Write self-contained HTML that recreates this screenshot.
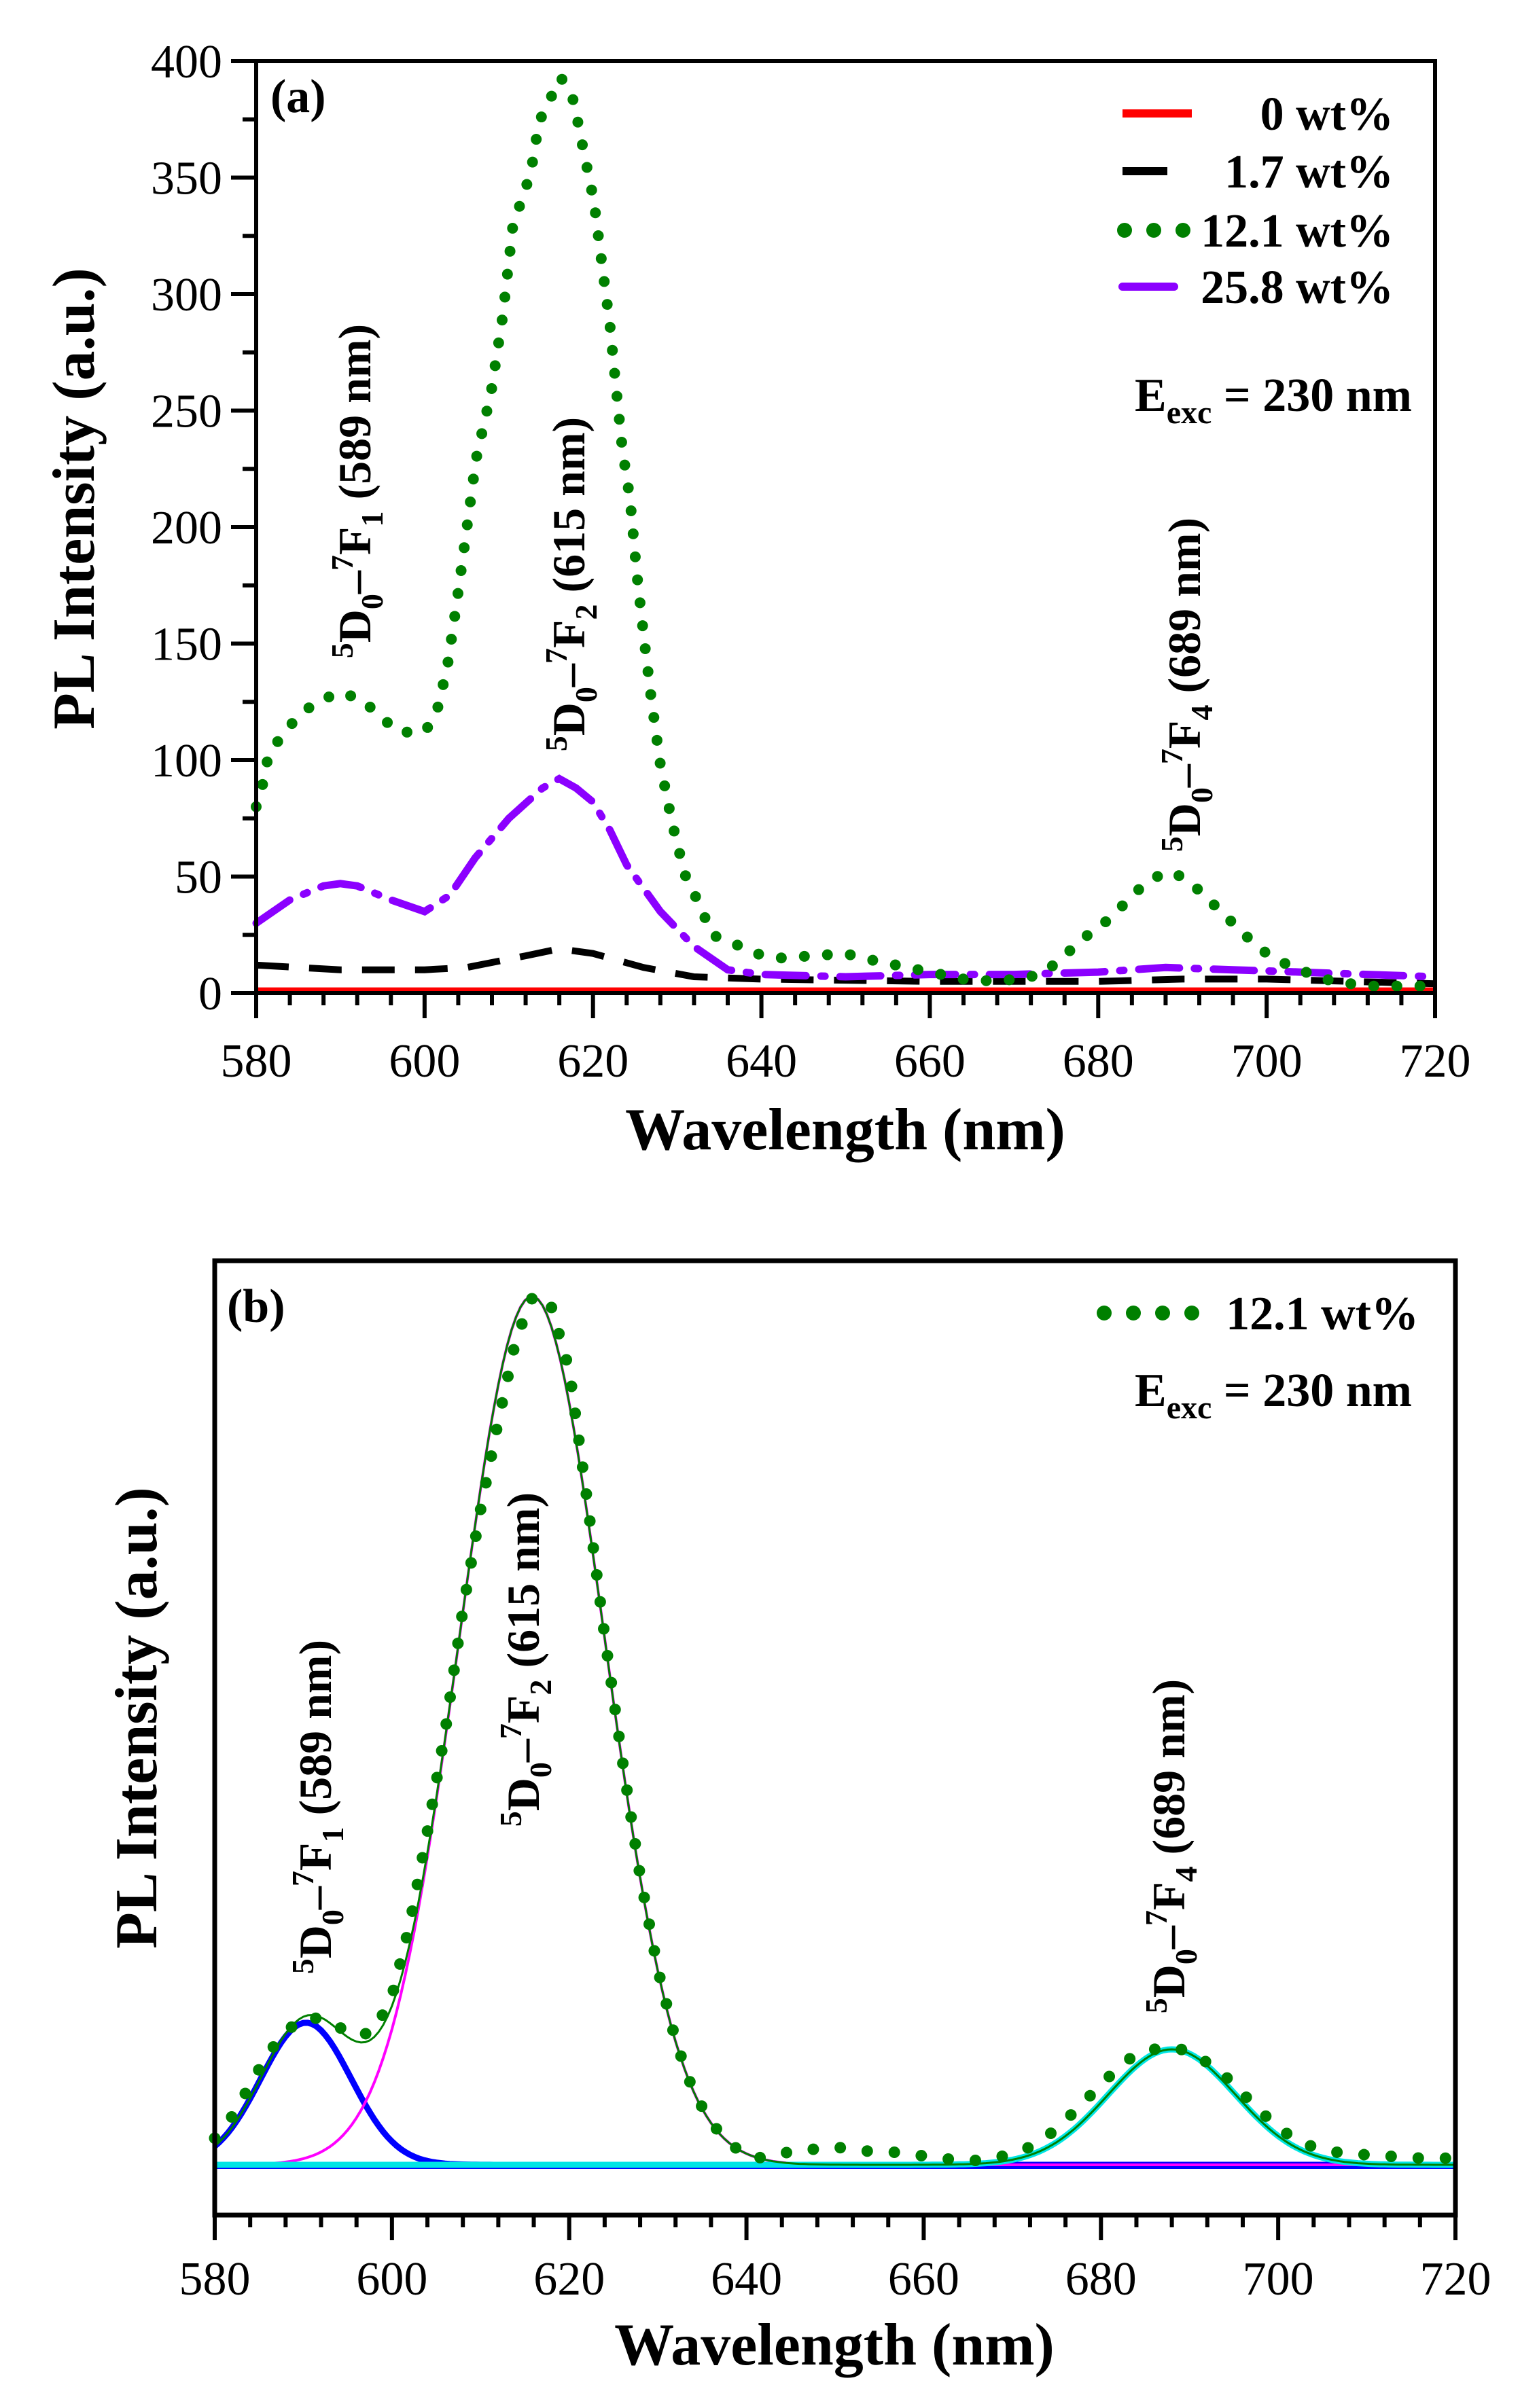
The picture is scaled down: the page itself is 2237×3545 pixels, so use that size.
<!DOCTYPE html>
<html><head><meta charset="utf-8"><style>
html,body{margin:0;padding:0;background:#fff;}
svg{display:block;font-family:"Liberation Serif",serif;}
</style></head><body>
<svg id="fig" width="2237" height="3545" viewBox="0 0 2237 3545" xmlns="http://www.w3.org/2000/svg">
<rect width="2237" height="3545" fill="#fff"/>
<g id="pa"></g>
<g id="pb"></g>
</svg>
<script>
// ---------- Panel (a) data ----------
const aX121 = [580,580.8,581.4,582.9,584.8,587.1,590,592.6,594.6,597,600,601.4,602.7,603.8,605,606.1,607.9,609.3,610.5,611.9,612.7,613.6,614.8,616.2,617.7,618.8,620.1,621.2,622,622.6,623.5,624.4,625.2,626,626.9,628,629.4,630.9,632.9,634.1,636.3,639.3,642,646,650,652,656,660,664,668,672,674,676,678,680,682,684,686,688,690,692,694,696,698,700,702,704,706,708,712,716,720];
const aY121 = [80,90,101,110,118,125,129,126,119,112,112,120,140,167,199,229,258,291,330,344,354,374,383,393,383,363,340,309,287,265,233,212,180,154,127,98,73,51,36,25,22,17,15,16,17,15,12,9,6,5,7,10,16,23,28,34,42,48,52,50,44,37,30,23,17,13,10,7,5,3,3,3];
const aX258 = [580,584,588,590,592,596,600,603,606,610,614,616,618,620,622,624,628,632,636,640,650,660,670,680,688,696,704,712,720];
const aY258 = [30,40,46,47,46,40,35,42,58,75,88,92,88,82,70,55,35,20,10,8,7,8,8,9,11,10,9,8,7];
const aX17 = [580,590,600,605,612,616,620,626,632,640,660,680,690,700,710,720];
const aY17 = [12,10,10,11,16,19,17,11,7,6,5,5,6,6,5,4];
const aX0 = [580,600,620,640,660,680,700,720];
const aY0 = [1,1,1,1,1,1,1,1];
const aYTicks = [0,50,100,150,200,250,300,350,400];
const xTicks = [580,600,620,640,660,680,700,720];
// ---------- Panel (b) data ----------
const bX = [580,582,584,586,588,590,592,594,596,598,600,602,604,606,608,610,612,614,616,618,620,622,624,626,628,630,632,634,636,638,640,642,644,646,648,650,652,654,656,658,660,662,664,666,668,670,672,674,676,678,680,682,684,686,688,690,692,694,696,698,700,702,704,706,708,712,716,720];
const bY = [12,22,36,50,60,66,66,62,58,60,76,108,150,195,250,295,335,372,392,386,358,300,238,182,130,88,56,33,19,10,4,3,5,7,7,8,7,6,6,5,4,3,2,2,3,5,8,13,20,28,36,44,50,52,53,51,46,40,32,24,17,11,8,6,5,4,3,3];
const peakCenters = [590.3,615.8,688];
const peakHeights = [64,391,52];
const peakWidths = [5.1,8.2,7.2];

const NS="http://www.w3.org/2000/svg";
function mk(parent,tag,attrs){const e=document.createElementNS(NS,tag);for(const k in attrs)e.setAttribute(k,attrs[k]);parent.appendChild(e);return e;}
function pathFrom(xs,ys,sx,sy){return xs.map((x,i)=>(i?'L':'M')+sx(x).toFixed(1)+' '+sy(ys[i]).toFixed(1)).join(' ');}

// ===== Panel A =====
const pa=document.getElementById('pa');
const aL=377,aR=2112,aT=90,aB=1462;
const axA=x=>aL+(x-580)*(aR-aL)/140;
const ayA=y=>aB-(y)*(aB-aT)/400;
let s;
s=mk(pa,'path',{d:pathFrom(aX0,aY0,axA,ayA),fill:'none',stroke:'#ff0000','stroke-width':10});


s=mk(pa,'path',{d:pathFrom(aX17,aY17,axA,ayA),fill:'none',stroke:'#000','stroke-width':10,'stroke-dasharray':'48 30'});


s=mk(pa,'path',{d:pathFrom(aX258,aY258,axA,ayA),fill:'none',stroke:'#8b00ff','stroke-width':11,'stroke-dasharray':'60 22 6 22','stroke-linecap':'round'});


s=mk(pa,'path',{d:pathFrom(aX121,aY121,axA,ayA),fill:'none',stroke:'#008000','stroke-width':16,'stroke-dasharray':'0 34','stroke-linecap':'round'});


let fr=mk(pa,'path',{d:`M${aL} ${aT} H${aR} V${aB} H${aL} Z`,fill:'none',stroke:'#000','stroke-width':6});


aYTicks.forEach(v=>{
  const t=mk(pa,'line',{x1:aL-37,x2:aL,y1:ayA(v),y2:ayA(v),stroke:'#000','stroke-width':6});
  
  
  const l=mk(pa,'text',{x:aL-50,y:ayA(v)+24,'text-anchor':'end','font-size':70});
  l.textContent=v;
  
  
  if(v<400){const m=mk(pa,'line',{x1:aL-20,x2:aL,y1:ayA(v+25),y2:ayA(v+25),stroke:'#000','stroke-width':6});
  
  }
});
xTicks.forEach(v=>{
  const t=mk(pa,'line',{x1:axA(v),x2:axA(v),y1:aB,y2:aB+37,stroke:'#000','stroke-width':6});
  
  
  const l=mk(pa,'text',{x:axA(v),y:1585,'text-anchor':'middle','font-size':70});
  l.textContent=v;
  
  
  if(v<720)for(let k=1;k<5;k++){const m=mk(pa,'line',{x1:axA(v+4*k),x2:axA(v+4*k),y1:aB,y2:aB+18,stroke:'#000','stroke-width':6});
  
  }
});
const legA=[['0 wt%','#ff0000',''],['1.7 wt%','#000',''],['12.1 wt%','#008000',''],['25.8 wt%','#8b00ff','']];
const legY=[167,252,339,422];
legA.forEach((e,i)=>{
  const a={x1:1652,x2:1754,y1:legY[i],y2:legY[i],stroke:e[1],'stroke-width':i==2?22:12};
  if(i==2){a['stroke-dasharray']='0 43';a['stroke-linecap']='round';a.x1=1655;a.x2=1742;}
  else if(i==1){a.x2=1718;} else if(i==3){a.x2=1728;a['stroke-linecap']='round';}
  const ln=mk(pa,'line',a);
  
  
  const t=mk(pa,'text',{x:2051,y:legY[i]+24,'text-anchor':'end','font-size':70,'font-weight':'bold'});
  t.textContent=e[0];
  
  
});
function addHTMLText(parent,html,attrs,name){const t=mk(parent,'text',attrs);t.innerHTML=html;return t;}
addHTMLText(pa,'E<tspan font-size="48" dy="18">exc</tspan><tspan dy="-18"> = 230 nm</tspan>',{x:1670,y:605,'font-size':70,'font-weight':'bold'},'excitation-label');
addHTMLText(pa,'(a)',{x:398,y:165,'font-size':70,'font-weight':'bold'},'panel-label-a');
addHTMLText(pa,'Wavelength (nm)',{x:1244,y:1692,'text-anchor':'middle','font-size':88,'font-weight':'bold'},'x-axis-title');
addHTMLText(pa,'PL Intensity (a.u.)',{x:0,y:0,'text-anchor':'middle','font-size':88,'font-weight':'bold',transform:'translate(138,734) rotate(-90)'},'y-axis-title');
function trans(n,w){return '<tspan font-size="46" dy="-26">5</tspan><tspan dy="26">D</tspan><tspan font-size="46" dy="18">0</tspan><tspan dy="-18">–</tspan><tspan font-size="46" dy="-26">7</tspan><tspan dy="26">F</tspan><tspan font-size="46" dy="18">'+n+'</tspan><tspan dy="-18"> ('+w+' nm)</tspan>';}
addHTMLText(pa,trans(1,589),{x:0,y:0,'text-anchor':'middle','font-size':68,'font-weight':'bold',transform:'translate(545,723) rotate(-90)'},'annotation-589');
addHTMLText(pa,trans(2,615),{x:0,y:0,'text-anchor':'middle','font-size':68,'font-weight':'bold',transform:'translate(860,860) rotate(-90)'},'annotation-615');
addHTMLText(pa,trans(4,689),{x:0,y:0,'text-anchor':'middle','font-size':68,'font-weight':'bold',transform:'translate(1766,1008) rotate(-90)'},'annotation-689');

// ===== Panel B =====
const pb=document.getElementById('pb');
const bL=316,bR=2142,bT=1856,bB=3261,base=3187;
const axB=x=>bL+(x-580)*(bR-bL)/140;
const ayB=y=>base-y*3.27;
const fineX=[];for(let x=580;x<=720;x+=0.5)fineX.push(x);
function comp(i,x){return peakHeights[i]*Math.exp(-Math.pow(x-peakCenters[i],2)/(2*peakWidths[i]*peakWidths[i]));}
s=mk(pb,'line',{x1:bL,x2:bR,y1:base+4,y2:base+4,stroke:'#0000ff','stroke-width':4});


s=mk(pb,'line',{x1:axB(640),x2:bR,y1:base,y2:base,stroke:'#ff00ff','stroke-width':7});


s=mk(pb,'line',{x1:bL,x2:axB(645),y1:base,y2:base,stroke:'#00ffff','stroke-width':9});


const colors=['#0000ff','#ff00ff','#00e5e5'];const widths=[9,4,9];
[0,1,2].forEach(i=>{
  const ys=fineX.map(x=>comp(i,x));
  const p=mk(pb,'path',{d:pathFrom(fineX,ys,axB,ayB),fill:'none',stroke:colors[i],'stroke-width':widths[i]});
  
  
});
const env=fineX.map(x=>comp(0,x)+comp(1,x)+comp(2,x));
s=mk(pb,'path',{d:pathFrom(fineX,env,axB,ayB),fill:'none',stroke:'#008000','stroke-width':3});


s=mk(pb,'path',{d:pathFrom(bX,bY,axB,ayB),fill:'none',stroke:'#008000','stroke-width':17,'stroke-dasharray':'0 40','stroke-linecap':'round'});


fr=mk(pb,'path',{d:`M${bL} ${bT} H${bR} V${bB} H${bL} Z`,fill:'none',stroke:'#000','stroke-width':7});


xTicks.forEach(v=>{
  const t=mk(pb,'line',{x1:axB(v),x2:axB(v),y1:bB,y2:bB+37,stroke:'#000','stroke-width':6});
  
  
  const l=mk(pb,'text',{x:axB(v),y:3378,'text-anchor':'middle','font-size':70});
  l.textContent=v;
  
  
  if(v<720)for(let k=1;k<5;k++){const m=mk(pb,'line',{x1:axB(v+4*k),x2:axB(v+4*k),y1:bB,y2:bB+18,stroke:'#000','stroke-width':6});
  
  }
});
s=mk(pb,'line',{x1:1625,x2:1755,y1:1933,y2:1933,stroke:'#008000','stroke-width':22,'stroke-dasharray':'0 43','stroke-linecap':'round'});


addHTMLText(pb,'12.1 wt%',{x:2088,y:1957,'text-anchor':'end','font-size':70,'font-weight':'bold'},'legend-entry-b');
addHTMLText(pb,'E<tspan font-size="48" dy="18">exc</tspan><tspan dy="-18"> = 230 nm</tspan>',{x:1670,y:2070,'font-size':70,'font-weight':'bold'},'excitation-label-b');
addHTMLText(pb,'(b)',{x:334,y:1946,'font-size':70,'font-weight':'bold'},'panel-label-b');
addHTMLText(pb,'Wavelength (nm)',{x:1228,y:3481,'text-anchor':'middle','font-size':88,'font-weight':'bold'},'x-axis-title-b');
addHTMLText(pb,'PL Intensity (a.u.)',{x:0,y:0,'text-anchor':'middle','font-size':88,'font-weight':'bold',transform:'translate(230,2529) rotate(-90)'},'y-axis-title-b');
addHTMLText(pb,trans(1,589),{x:0,y:0,'text-anchor':'middle','font-size':68,'font-weight':'bold',transform:'translate(487,2660) rotate(-90)'},'annotation-589-b');
addHTMLText(pb,trans(2,615),{x:0,y:0,'text-anchor':'middle','font-size':68,'font-weight':'bold',transform:'translate(793,2443) rotate(-90)'},'annotation-615-b');
addHTMLText(pb,trans(4,689),{x:0,y:0,'text-anchor':'middle','font-size':68,'font-weight':'bold',transform:'translate(1743,2718) rotate(-90)'},'annotation-689-b');
</script>
</body></html>
